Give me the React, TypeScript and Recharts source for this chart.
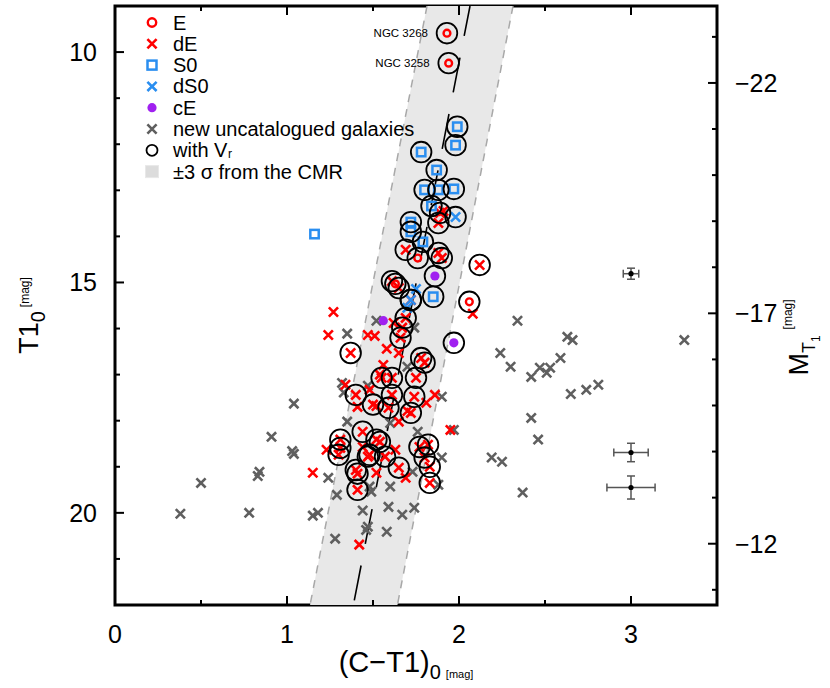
import React from "react";
import {
  ErrorBar,
  Legend,
  ReferenceArea,
  Scatter,
  ScatterChart,
  XAxis,
  YAxis,
} from "recharts";

// [ (C-T1)0 , T1_0 , has radial velocity ]
type Pt = [number, number, number];

const ellipticals: Pt[] = [
  [1.93, 9.59, 1],
  [1.94, 10.24, 1],
  [1.76, 14.47, 1],
  [2.06, 15.42, 1],
  [1.63, 15.03, 1],
];
const ellipticalNames = ["NGC 3268", "NGC 3258", "", "", ""];

const lenticulars: Pt[] = [
  [1.99, 11.62, 1],
  [1.98, 12.02, 1],
  [1.78, 12.17, 1],
  [1.87, 12.56, 1],
  [1.8, 12.99, 1],
  [1.88, 12.99, 1],
  [1.97, 12.97, 1],
  [1.84, 13.34, 1],
  [1.72, 13.69, 1],
  [1.72, 13.9, 1],
  [1.79, 14.12, 1],
  [1.85, 15.31, 1],
  [1.16, 13.95, 0],
];

const dwarfLenticulars: Pt[] = [
  [1.98, 13.58, 1],
  [1.75, 15.14, 0],
  [1.72, 15.38, 1],
  [1.7, 15.55, 0],
];

const compactEllipticals: Pt[] = [
  [1.86, 14.86, 1],
  [1.56, 15.83, 0],
  [1.97, 16.31, 1],
];

const dwarfEllipticals: Pt[] = [
  [1.89, 13.49, 1],
  [1.88, 13.71, 1],
  [1.91, 13.45, 0],
  [1.69, 14.29, 1],
  [1.88, 14.36, 1],
  [1.9, 14.47, 1],
  [2.12, 14.62, 1],
  [2.08, 15.68, 0],
  [1.27, 15.64, 0],
  [1.24, 16.14, 0],
  [1.37, 16.53, 1],
  [1.47, 16.14, 0],
  [1.51, 16.16, 0],
  [1.61, 14.97, 1],
  [1.65, 15.12, 1],
  [1.72, 15.38, 1],
  [1.69, 15.77, 1],
  [1.62, 15.88, 0],
  [1.67, 15.98, 1],
  [1.66, 16.2, 1],
  [1.58, 16.44, 0],
  [1.65, 16.53, 0],
  [1.56, 16.79, 0],
  [1.78, 16.64, 1],
  [1.8, 16.74, 1],
  [1.75, 17.07, 1],
  [1.55, 17.07, 1],
  [1.61, 17.07, 1],
  [1.54, 17.0, 0],
  [1.34, 17.22, 0],
  [1.4, 17.44, 1],
  [1.48, 17.33, 0],
  [1.5, 17.65, 1],
  [1.52, 17.68, 0],
  [1.59, 17.72, 1],
  [1.61, 17.44, 1],
  [1.74, 17.48, 1],
  [1.81, 17.61, 0],
  [1.86, 17.44, 0],
  [1.72, 17.83, 1],
  [1.7, 17.79, 0],
  [1.65, 18.02, 0],
  [1.41, 17.7, 0],
  [1.44, 18.24, 1],
  [1.95, 18.2, 0],
  [1.31, 18.41, 1],
  [1.31, 18.59, 1],
  [1.3, 18.74, 1],
  [1.23, 18.63, 0],
  [1.15, 19.13, 0],
  [1.4, 19.07, 1],
  [1.41, 19.15, 1],
  [1.41, 19.5, 1],
  [1.44, 18.57, 0],
  [1.47, 18.78, 1],
  [1.48, 18.74, 1],
  [1.52, 18.41, 1],
  [1.54, 18.46, 1],
  [1.57, 18.78, 1],
  [1.63, 18.63, 0],
  [1.65, 19.02, 1],
  [1.69, 19.24, 0],
  [1.52, 19.13, 0],
  [1.77, 18.57, 1],
  [1.82, 18.52, 1],
  [1.8, 18.8, 1],
  [1.83, 19.0, 1],
  [1.83, 19.35, 1],
  [1.42, 20.69, 0],
];

const uncatalogued: Pt[] = [
  [1.35, 16.11, 0],
  [1.52, 15.83, 0],
  [1.74, 15.98, 0],
  [1.7, 16.83, 0],
  [1.32, 17.18, 0],
  [1.33, 17.39, 0],
  [1.47, 17.24, 0],
  [1.9, 17.48, 0],
  [1.35, 18.02, 0],
  [1.6, 18.05, 0],
  [1.76, 18.24, 0],
  [1.97, 18.2, 0],
  [1.04, 17.63, 0],
  [1.03, 18.66, 0],
  [1.04, 18.72, 0],
  [1.24, 19.24, 0],
  [1.48, 19.43, 0],
  [1.49, 19.54, 0],
  [1.6, 19.43, 0],
  [1.73, 19.11, 0],
  [1.9, 18.8, 0],
  [1.88, 19.39, 0],
  [1.29, 19.61, 0],
  [1.15, 20.06, 0],
  [1.18, 20.0, 0],
  [1.44, 19.95, 0],
  [1.59, 19.87, 0],
  [1.67, 20.04, 0],
  [1.74, 19.89, 0],
  [1.47, 20.3, 0],
  [1.46, 20.37, 0],
  [1.28, 20.56, 0],
  [1.58, 20.41, 0],
  [0.91, 18.35, 0],
  [0.84, 19.11, 0],
  [0.83, 19.2, 0],
  [0.5, 19.35, 0],
  [0.38, 20.02, 0],
  [0.78, 20.0, 0],
  [2.34, 15.83, 0],
  [2.24, 16.53, 0],
  [2.3, 16.83, 0],
  [2.42, 17.05, 0],
  [2.47, 16.85, 0],
  [2.51, 16.96, 0],
  [2.53, 16.85, 0],
  [2.59, 16.64, 0],
  [2.63, 16.18, 0],
  [2.66, 16.25, 0],
  [3.31, 16.25, 0],
  [2.65, 17.42, 0],
  [2.74, 17.33, 0],
  [2.81, 17.22, 0],
  [2.42, 17.94, 0],
  [2.46, 18.41, 0],
  [2.19, 18.8, 0],
  [2.25, 18.89, 0],
  [2.37, 19.56, 0],
];

// typical photometric errors
const errColour = [3.0, 3.0, 3.0];
const errMag = [14.81, 18.69, 19.45];
const errColourSize = [0.045, 0.1, 0.14];
const errMagSize = [0.12, 0.2, 0.25];

// colour-magnitude relation and its +-3 sigma band
const cmrT1 = [9, 22];
const cmrColour = [2.064, 1.386];
const bandLeft = [1.814, 1.134];
const bandRight = [2.314, 1.642];

const xTicks = [0, 0.5, 1, 1.5, 2, 2.5, 3, 3.5];
const yTicks = [9, 10, 11, 12, 13, 14, 15, 16, 17, 18, 19, 20, 21, 22];
const absTicks = [-23, -22, -21, -20, -19, -18, -17, -16, -15, -14, -13, -12, -11];
const distanceModulus = 32.67;

const FONT = "'Liberation Sans', Arial, Helvetica, sans-serif";
const RED = "#ff0000";
const BLUE = "#2a8ef0";
const GREY = "#5f5f5f";
const PURPLE = "#a020f0";

const toXY = (pts: Pt[]) => pts.map(([x, y, vr]) => ({ x, y, vr }));
const allCatalogued = [
  ...ellipticals,
  ...lenticulars,
  ...dwarfLenticulars,
  ...compactEllipticals,
  ...dwarfEllipticals,
];
const vrData = toXY(allCatalogued.filter((p) => p[2]));
const eData = ellipticals.map(([x, y], i) => ({ x, y, name: ellipticalNames[i] }));
const errData = errColour.map((x, i) => ({
  x,
  y: errMag[i],
  ex: errColourSize[i],
  ey: errMagSize[i],
}));
const bandData = [
  { x: bandLeft[0], y: cmrT1[0] },
  { x: bandLeft[1], y: cmrT1[1] },
  { x: bandRight[1], y: cmrT1[1] },
  { x: bandRight[0], y: cmrT1[0] },
];
const cmrData = cmrT1.map((y, i) => ({ x: cmrColour[i], y }));

const crossPath = (cx: number, cy: number, h: number) =>
  `M${cx - h},${cy - h}L${cx + h},${cy + h}M${cx - h},${cy + h}L${cx + h},${cy - h}`;

const crossShape = (color: string) => (p: any) => (
  <path d={crossPath(p.cx, p.cy, 4.6)} stroke={color} strokeWidth={2.6} fill="none" />
);
const squareShape = (p: any) => (
  <rect x={p.cx - 4.2} y={p.cy - 4.2} width={8.4} height={8.4} fill="none" stroke={BLUE} strokeWidth={2.5} />
);
const dotShape = (p: any) => <circle cx={p.cx} cy={p.cy} r={4.6} fill={PURPLE} />;
const vrShape = (p: any) => (
  <circle cx={p.cx} cy={p.cy} r={10.3} fill="none" stroke="#000" strokeWidth={1.8} />
);
const ringShape = (p: any) => (
  <g>
    <circle cx={p.cx} cy={p.cy} r={3.4} fill="none" stroke={RED} strokeWidth={2.4} />
    {p.payload?.name ? (
      <text x={p.cx - 19} y={p.cy + 4} textAnchor="end" fontSize={11.5} fontFamily={FONT} fill="#000">
        {p.payload.name}
      </text>
    ) : null}
  </g>
);
const none = () => <g />;

const bandLine = (props: any) => {
  const pts = props.points;
  if (!pts || pts.length < 4) return <g />;
  const poly = pts.map((p: any) => `${p.x},${p.y}`).join(" ");
  return (
    <g>
      <polygon points={poly} fill="#e8e8e8" stroke="none" />
      <line x1={pts[0].x} y1={pts[0].y} x2={pts[1].x} y2={pts[1].y} stroke="#a8a8a8" strokeWidth={1.5} strokeDasharray="8 7" />
      <line x1={pts[3].x} y1={pts[3].y} x2={pts[2].x} y2={pts[2].y} stroke="#a8a8a8" strokeWidth={1.5} strokeDasharray="8 7" />
    </g>
  );
};

const cmrLine = (props: any) => {
  const pts = props.points;
  if (!pts || pts.length < 2) return <g />;
  return (
    <line
      x1={pts[0].x}
      y1={pts[0].y}
      x2={pts[1].x}
      y2={pts[1].y}
      stroke="#000"
      strokeWidth={1.6}
      strokeDasharray="35.5 22"
      strokeDashoffset={5}
    />
  );
};

const BottomTick = (props: any) => {
  const { x, y, payload } = props;
  const v = payload.value;
  const major = Number.isInteger(v);
  return (
    <g>
      <line x1={x} x2={x} y1={y} y2={y - (major ? 9 : 5)} stroke="#000" strokeWidth={2} />
      {major && (
        <text x={x} y={y + 38} textAnchor="middle" fontSize={25} fontFamily={FONT} fill="#000">
          {v}
        </text>
      )}
    </g>
  );
};

const TopTick = (props: any) => {
  const { x, y, payload } = props;
  const major = Number.isInteger(payload.value);
  return <line x1={x} x2={x} y1={y} y2={y + (major ? 9 : 5)} stroke="#000" strokeWidth={2} />;
};

const LeftTick = (props: any) => {
  const { x, y, payload } = props;
  const v = payload.value;
  const major = v % 5 === 0;
  return (
    <g>
      <line x1={x} x2={x + (major ? 9 : 5)} y1={y} y2={y} stroke="#000" strokeWidth={2} />
      {major && (
        <text x={x - 18} y={y + 9} textAnchor="end" fontSize={25} fontFamily={FONT} fill="#000">
          {v}
        </text>
      )}
    </g>
  );
};

const RightTick = (props: any) => {
  const { x, y, payload } = props;
  const v = payload.value;
  const major = v % 5 === -2 || v % 5 === 3;
  return (
    <g>
      <line x1={x} x2={x - (major ? 9 : 5)} y1={y} y2={y} stroke="#000" strokeWidth={2} />
      {major && (
        <text x={x + 18} y={y + 9} textAnchor="start" fontSize={25} fontFamily={FONT} fill="#000">
          {`\u2212${Math.abs(v)}`}
        </text>
      )}
    </g>
  );
};

const leftTitle = (props: any) => {
  const vb = props.viewBox;
  const cx = vb.x + 38;
  const cy = vb.y + vb.height / 2 + 10;
  return (
    <text transform={`translate(${cx},${cy}) rotate(-90)`} textAnchor="middle" fontFamily={FONT} fill="#000" fontSize={27}>
      T1
      <tspan fontSize={20} dy={7}>0</tspan>
      <tspan fontSize={12} dy={-16} dx={4}>[mag]</tspan>
    </text>
  );
};

const rightTitle = (props: any) => {
  const vb = props.viewBox;
  const cx = vb.x + vb.width - 22;
  const cy = vb.y + vb.height / 2 + 32;
  return (
    <text transform={`translate(${cx},${cy}) rotate(-90)`} textAnchor="middle" fontFamily={FONT} fill="#000" fontSize={27}>
      M
      <tspan fontSize={18} dy={7}>T</tspan>
      <tspan fontSize={12} dy={5}>1</tspan>
      <tspan fontSize={12} dy={-28} dx={6}>[mag]</tspan>
    </text>
  );
};

const bottomTitle = (props: any) => {
  const vb = props.viewBox;
  const cx = vb.x + vb.width / 2 - 10;
  return (
    <text x={cx} y={vb.y + 67} textAnchor="middle" fontFamily={FONT} fill="#000" fontSize={29}>
      (C{"\u2212"}T1)
      <tspan fontSize={20} dy={7}>0</tspan>
      <tspan fontSize={11} dx={5} dy={-1}>[mag]</tspan>
    </text>
  );
};

const legendRows = [
  { label: "E", kind: "ring" },
  { label: "dE", kind: "redx" },
  { label: "S0", kind: "square" },
  { label: "dS0", kind: "bluex" },
  { label: "cE", kind: "dot" },
  { label: "new uncatalogued galaxies", kind: "greyx" },
  { label: "with V", kind: "vr" },
  { label: "\u00b13 \u03c3 from the CMR", kind: "band" },
];

const legendSymbol = (kind: string, cx: number, cy: number) => {
  switch (kind) {
    case "ring":
      return <circle cx={cx} cy={cy} r={4.2} fill="none" stroke={RED} strokeWidth={2.4} />;
    case "redx":
      return <path d={crossPath(cx, cy, 4.6)} stroke={RED} strokeWidth={2.6} />;
    case "square":
      return <rect x={cx - 4.5} y={cy - 4.5} width={9} height={9} fill="none" stroke={BLUE} strokeWidth={2.5} />;
    case "bluex":
      return <path d={crossPath(cx, cy, 4.6)} stroke={BLUE} strokeWidth={2.6} />;
    case "dot":
      return <circle cx={cx} cy={cy} r={4.6} fill={PURPLE} />;
    case "greyx":
      return <path d={crossPath(cx, cy, 4.6)} stroke={GREY} strokeWidth={2.6} />;
    case "vr":
      return <circle cx={cx} cy={cy} r={5.5} fill="none" stroke="#000" strokeWidth={1.8} />;
    default:
      return <rect x={cx - 6.5} y={cy - 6} width={13} height={12} fill="#dcdcdc" stroke="#e8e8e8" />;
  }
};

const renderLegend = () => (
  <svg width={460} height={190} style={{ display: "block" }}>
    {legendRows.map((row, i) => {
      const cy = 22.5 + i * 21.3;
      return (
        <g key={row.label}>
          {legendSymbol(row.kind, 152, cy)}
          <text x={173} y={cy + 7} fontSize={20} fontFamily={FONT} fill="#000">
            {row.label}
          </text>
          {row.kind === "vr" ? (
            <text x={228} y={cy + 7.5} fontSize={12} fontFamily={FONT} fill="#000">
              r
            </text>
          ) : null}
        </g>
      );
    })}
  </svg>
);

export default function App() {
  return (
    <div style={{ position: "absolute", left: 0, top: 0, width: 830, height: 688, background: "#fff", fontFamily: FONT }}>
      <ScatterChart width={830} height={688} margin={{ top: 0, right: 0, bottom: 0, left: 0 }}>
        <XAxis
          xAxisId="b"
          dataKey="x"
          type="number"
          domain={[0, 3.5]}
          ticks={xTicks}
          interval={0}
          allowDataOverflow
          orientation="bottom"
          height={83}
          axisLine={false}
          tickLine={false}
          tickSize={0}
          tickMargin={0}
          tick={<BottomTick />}
          label={{ content: bottomTitle }}
        />
        <XAxis
          xAxisId="t"
          dataKey="x"
          type="number"
          domain={[0, 3.5]}
          ticks={xTicks}
          interval={0}
          allowDataOverflow
          orientation="top"
          height={6}
          axisLine={false}
          tickLine={false}
          tickSize={0}
          tickMargin={0}
          tick={<TopTick />}
        />
        <YAxis
          yAxisId="l"
          dataKey="y"
          type="number"
          domain={[9, 22]}
          reversed
          ticks={yTicks}
          interval={0}
          allowDataOverflow
          orientation="left"
          width={115}
          axisLine={false}
          tickLine={false}
          tickSize={0}
          tickMargin={0}
          tick={<LeftTick />}
          label={{ content: leftTitle }}
        />
        <YAxis
          yAxisId="r"
          type="number"
          domain={[9 - distanceModulus, 22 - distanceModulus]}
          reversed
          ticks={absTicks}
          interval={0}
          allowDataOverflow
          orientation="right"
          width={113}
          axisLine={false}
          tickLine={false}
          tickSize={0}
          tickMargin={0}
          tick={<RightTick />}
          label={{ content: rightTitle }}
        />
        <Legend
          layout="vertical"
          align="center"
          verticalAlign="middle"
          content={renderLegend}
          wrapperStyle={{ left: 0, top: 0, width: 460, height: 190, pointerEvents: "none" }}
        />
        <Scatter
          xAxisId="b"
          yAxisId="l"
          data={bandData}
          shape={none}
          line={bandLine}
          lineType="joint"
          legendType="none"
          isAnimationActive={false}
        />
        <Scatter
          xAxisId="b"
          yAxisId="l"
          data={cmrData}
          shape={none}
          line={cmrLine}
          lineType="joint"
          legendType="none"
          isAnimationActive={false}
        />
        <Scatter xAxisId="b" yAxisId="l" data={toXY(uncatalogued)} shape={crossShape(GREY)} isAnimationActive={false} />
        <Scatter xAxisId="b" yAxisId="l" data={toXY(dwarfEllipticals)} shape={crossShape(RED)} isAnimationActive={false} />
        <Scatter xAxisId="b" yAxisId="l" data={toXY(lenticulars)} shape={squareShape} isAnimationActive={false} />
        <Scatter xAxisId="b" yAxisId="l" data={toXY(dwarfLenticulars)} shape={crossShape(BLUE)} isAnimationActive={false} />
        <Scatter xAxisId="b" yAxisId="l" data={toXY(compactEllipticals)} shape={dotShape} isAnimationActive={false} />
        <Scatter xAxisId="b" yAxisId="l" data={eData} shape={ringShape} isAnimationActive={false} />
        <Scatter xAxisId="b" yAxisId="l" data={vrData} shape={vrShape} isAnimationActive={false} />
        <Scatter
          xAxisId="b"
          yAxisId="l"
          data={errData}
          shape={(p: any) => <circle cx={p.cx} cy={p.cy} r={2.6} fill="#000" />}
          isAnimationActive={false}
        >
          <ErrorBar dataKey="ex" direction="x" width={4} stroke="#555" strokeWidth={1.5} />
          <ErrorBar dataKey="ey" direction="y" width={4} stroke="#555" strokeWidth={1.5} />
        </Scatter>
        <ReferenceArea
          xAxisId="b"
          yAxisId="l"
          x1={0}
          x2={3.5}
          y1={9}
          y2={22}
          fill="none"
          stroke="#000"
          strokeWidth={3}
          ifOverflow="visible"
        />
      </ScatterChart>
    </div>
  );
}
